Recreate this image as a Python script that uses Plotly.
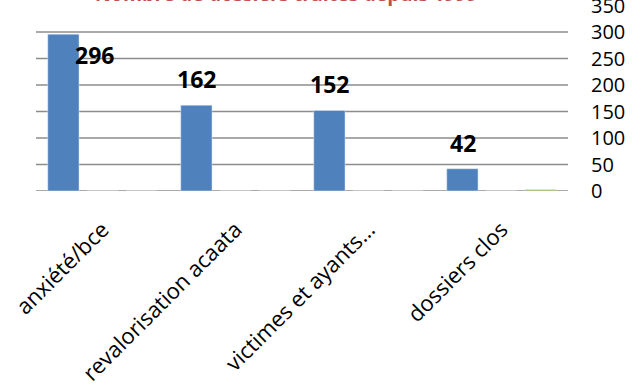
import plotly.graph_objects as go

categories = ["anxiété/bce", "revalorisation acaata", "victimes et ayants…", "dossiers clos"]
series_blue = [296, 162, 152, 42]
series_red = [0, 0, 0, 0]
series_green = [0, 0, 0, 3]
title_text = "Nombre de dossiers traités depuis 1999"
y_labels = [0, 50, 100, 150, 200, 250, 300, 350]
y_grid = [0, 50, 100, 150, 200, 250, 300]
y_range = [0, 351]

fig = go.Figure()
fig.add_trace(go.Bar(x=categories, y=series_blue, marker=dict(color="#4F81BD"), showlegend=False))
fig.add_trace(go.Bar(x=categories, y=series_red, marker=dict(color="#C0504D"), showlegend=False))
fig.add_trace(go.Bar(x=categories, y=series_green, marker=dict(color="#9BBB59"), showlegend=False))

# horizontal gridlines (no line at the top tick)
for g in y_grid:
    fig.add_shape(type="line", xref="paper", x0=0, x1=1, yref="y", y0=g, y1=g,
                  line=dict(color="#8c8c8c", width=1.5), layer="below")

# data labels for the blue series
label_shift = [(-8, -21), (-39, 26), (-39, 26), (-39, 26)]
for c, v, (dx, dy) in zip(categories, series_blue, label_shift):
    fig.add_annotation(x=c, y=v, text=str(v), showarrow=False, xshift=dx, yshift=dy,
                       yanchor="middle", xanchor="center",
                       font=dict(family="Open Sans", size=23, color="black", weight="bold"))

fig.add_annotation(x=0.47, xref="paper", y=1.0, yref="paper", yshift=12, text=title_text,
                   showarrow=False, yanchor="middle",
                   font=dict(family="Open Sans", size=19.5, color="#C0504D", weight="bold"))

axis_font = dict(family="Open Sans", size=20, color="black")
fig.update_layout(
    width=636, height=386,
    margin=dict(l=36, r=68, t=5, b=195),
    paper_bgcolor="white", plot_bgcolor="white",
    barmode="group", bargap=0.118, bargroupgap=0.2,
    xaxis=dict(tickangle=-45, tickfont=dict(family="Open Sans", size=22, color="black"),
               showgrid=False, showline=False, ticks="outside", ticklen=16,
               tickcolor="rgba(0,0,0,0)", automargin=False, ticklabeloverflow="allow"),
    yaxis=dict(side="right", range=y_range, tickvals=y_labels, showgrid=False,
               zeroline=False, tickfont=axis_font, ticklabelstandoff=22, showline=False,
               automargin=False, ticklabeloverflow="allow"),
)
fig.write_html("out.html")
